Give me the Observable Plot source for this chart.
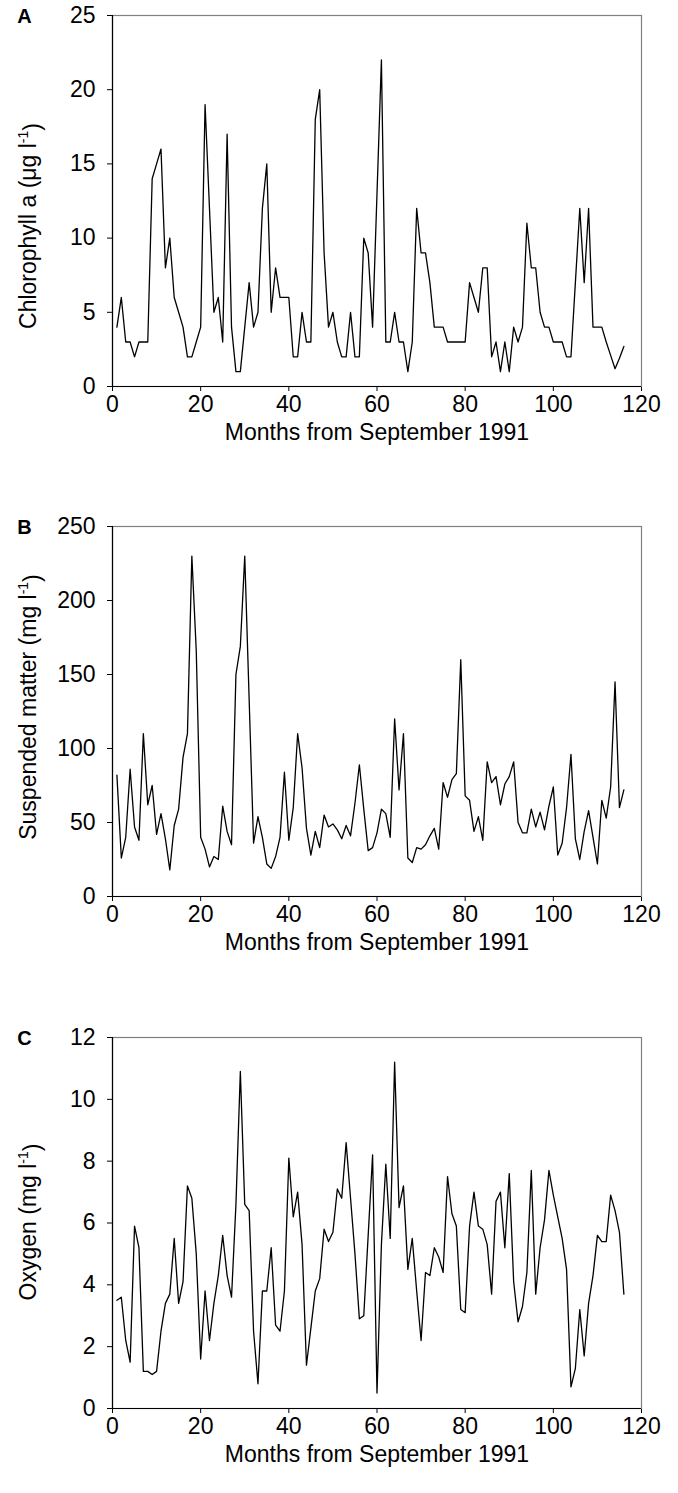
<!DOCTYPE html>
<html>
<head>
<meta charset="utf-8">
<script src="https://cdn.jsdelivr.net/npm/d3@7"></script>
<script src="https://cdn.jsdelivr.net/npm/@observablehq/plot@0.6"></script>
<style>
  html, body { margin: 0; padding: 0; background: white; }
  #chart svg { display: block; }
</style>
</head>
<body>
<div id="chart"></div>
<script>
// Month index (x), 1..116 months from September 1991
const months = d3.range(1, 117);

// Panel A: Chlorophyll a (µg l-1)
const chlorophyll = [4, 6, 3, 3, 2, 3, 3, 3, 14, 15, 16, 8, 10, 6, 5, 4, 2, 2, 3, 4,
  19, 12, 5, 6, 3, 17, 4, 1, 1, 4, 7, 4, 5, 12, 15, 5, 8, 6, 6, 6,
  2, 2, 5, 3, 3, 18, 20, 9, 4, 5, 3, 2, 2, 5, 2, 2, 10, 9, 4, 13,
  22, 3, 3, 5, 3, 3, 1, 3, 12, 9, 9, 7, 4, 4, 4, 3, 3, 3, 3, 3,
  7, 6, 5, 8, 8, 2, 3, 1, 3, 1, 4, 3, 4, 11, 8, 8, 5, 4, 4, 3,
  3, 3, 2, 2, 7, 12, 7, 12, 4, 4, 4, 3, 2.1, 1.2, 1.9, 2.7];

// Panel B: Suspended matter (mg l-1)
const suspended = [82, 26, 40, 86, 47, 38, 110, 62, 75, 42, 56, 39, 18, 48, 59, 94, 110, 230, 166, 40,
  32, 20, 27, 25, 61, 44, 35, 150, 169, 230, 133, 36, 54, 40, 22, 19, 27, 40, 84, 38,
  60, 110, 87, 46, 28, 44, 33, 55, 47, 49, 45, 39, 48, 41, 63, 89, 59, 31, 33, 43,
  59, 56, 40, 120, 72, 110, 26, 23, 33, 32, 35, 41, 46, 32, 77, 67, 79, 83, 160, 68,
  65, 44, 54, 38, 91, 77, 81, 62, 76, 81, 91, 50, 43, 43, 59, 47, 57, 45, 61, 74,
  28, 36, 60, 96, 39, 25, 44, 58, 40, 22, 65, 53, 74, 145, 60, 72];

// Panel C: Oxygen (mg l-1)
const oxygen = [3.5, 3.6, 2.2, 1.5, 5.9, 5.2, 1.2, 1.2, 1.1, 1.2, 2.5, 3.4, 3.7, 5.5, 3.4, 4.1, 7.2, 6.8, 5.0, 1.6,
  3.8, 2.2, 3.4, 4.3, 5.6, 4.3, 3.6, 6.6, 10.9, 6.6, 6.4, 2.5, 0.8, 3.8, 3.8, 5.2, 2.7, 2.5, 3.8, 8.1,
  6.2, 7.0, 5.3, 1.4, 2.6, 3.8, 4.2, 5.8, 5.4, 5.7, 7.1, 6.8, 8.6, 6.8, 5.0, 2.9, 3.0, 5.6, 8.2, 0.5,
  5.3, 7.9, 5.5, 11.2, 6.5, 7.2, 4.5, 5.5, 3.8, 2.2, 4.4, 4.3, 5.2, 4.9, 4.4, 7.5, 6.3, 5.9, 3.2, 3.1,
  5.9, 7.0, 5.9, 5.8, 5.3, 3.7, 6.7, 7.0, 5.2, 7.6, 4.1, 2.8, 3.3, 4.4, 7.7, 3.7, 5.2, 6.1, 7.7, 6.9,
  6.2, 5.5, 4.5, 0.7, 1.3, 3.2, 1.7, 3.4, 4.3, 5.6, 5.4, 5.4, 6.9, 6.4, 5.7, 3.7];

// Tick values
const xTicks = [0, 20, 40, 60, 80, 100, 120];
const yTicksA = [0, 5, 10, 15, 20, 25];
const yTicksB = [0, 50, 100, 150, 200, 250];
const yTicksC = [0, 2, 4, 6, 8, 10, 12];

const panelLetters = ["A", "B", "C"];
const xTitle = "Months from September 1991";
const yTitles = [
  ["Chlorophyll a (μg l", "-1", ")"],
  ["Suspended matter (mg l", "-1", ")"],
  ["Oxygen (mg l", "-1", ")"]
];

const FONT = "'Liberation Sans', Arial, Helvetica, sans-serif";

function panel({values, yTicks, letter, title, titleY, height, marginBottom}) {
  const table = months.map((m, i) => ({month: m, value: values[i]}));
  const yMax = yTicks[yTicks.length - 1];
  const svg = Plot.plot({
    width: 678,
    height,
    marginLeft: 112,
    marginRight: 37,
    marginTop: 15,
    marginBottom,
    style: {fontFamily: FONT, fontSize: "23px", background: "white", color: "black", overflow: "visible"},
    x: {domain: [0, 120], ticks: xTicks, tickSize: 5, tickPadding: 4, label: null},
    y: {domain: [0, yMax], ticks: yTicks, tickSize: 5, tickPadding: 12, label: null},
    marks: [
      Plot.frame({stroke: "#808080", strokeWidth: 1.2}),
      Plot.ruleX([0], {stroke: "black", strokeWidth: 1.2}),
      Plot.ruleY([0], {stroke: "black", strokeWidth: 1.2}),
      Plot.lineY(table, {x: "month", y: "value", stroke: "black", strokeWidth: 1.3}),
      Plot.text([letter], {text: d => d, frameAnchor: "top-left", dx: -88, dy: 1, fontWeight: "bold", fontSize: 20, textAnchor: "middle", lineAnchor: "middle"}),
      Plot.text([xTitle], {text: d => d, frameAnchor: "bottom", dy: 46, fontSize: 23, lineAnchor: "middle"})
    ]
  });
  const t = d3.select(svg).append("text")
    .attr("transform", `translate(30,${titleY}) rotate(-90)`)
    .attr("text-anchor", "middle")
    .attr("dominant-baseline", "middle")
    .attr("font-family", FONT)
    .attr("font-size", 23)
    .attr("fill", "black");
  t.append("tspan").text(title[0]);
  t.append("tspan").attr("dy", "-0.45em").attr("font-size", 14).text(title[1]);
  t.append("tspan").attr("dy", "0.45em").text(title[2]);
  return svg;
}

const chart = document.getElementById("chart");
chart.append(panel({values: chlorophyll, yTicks: yTicksA, letter: panelLetters[0], title: yTitles[0], titleY: 226, height: 511, marginBottom: 125}));
chart.append(panel({values: suspended, yTicks: yTicksB, letter: panelLetters[1], title: yTitles[1], titleY: 196, height: 511, marginBottom: 126}));
chart.append(panel({values: oxygen, yTicks: yTicksC, letter: panelLetters[2], title: yTitles[2], titleY: 200, height: 471, marginBottom: 85}));
</script>
</body>
</html>
